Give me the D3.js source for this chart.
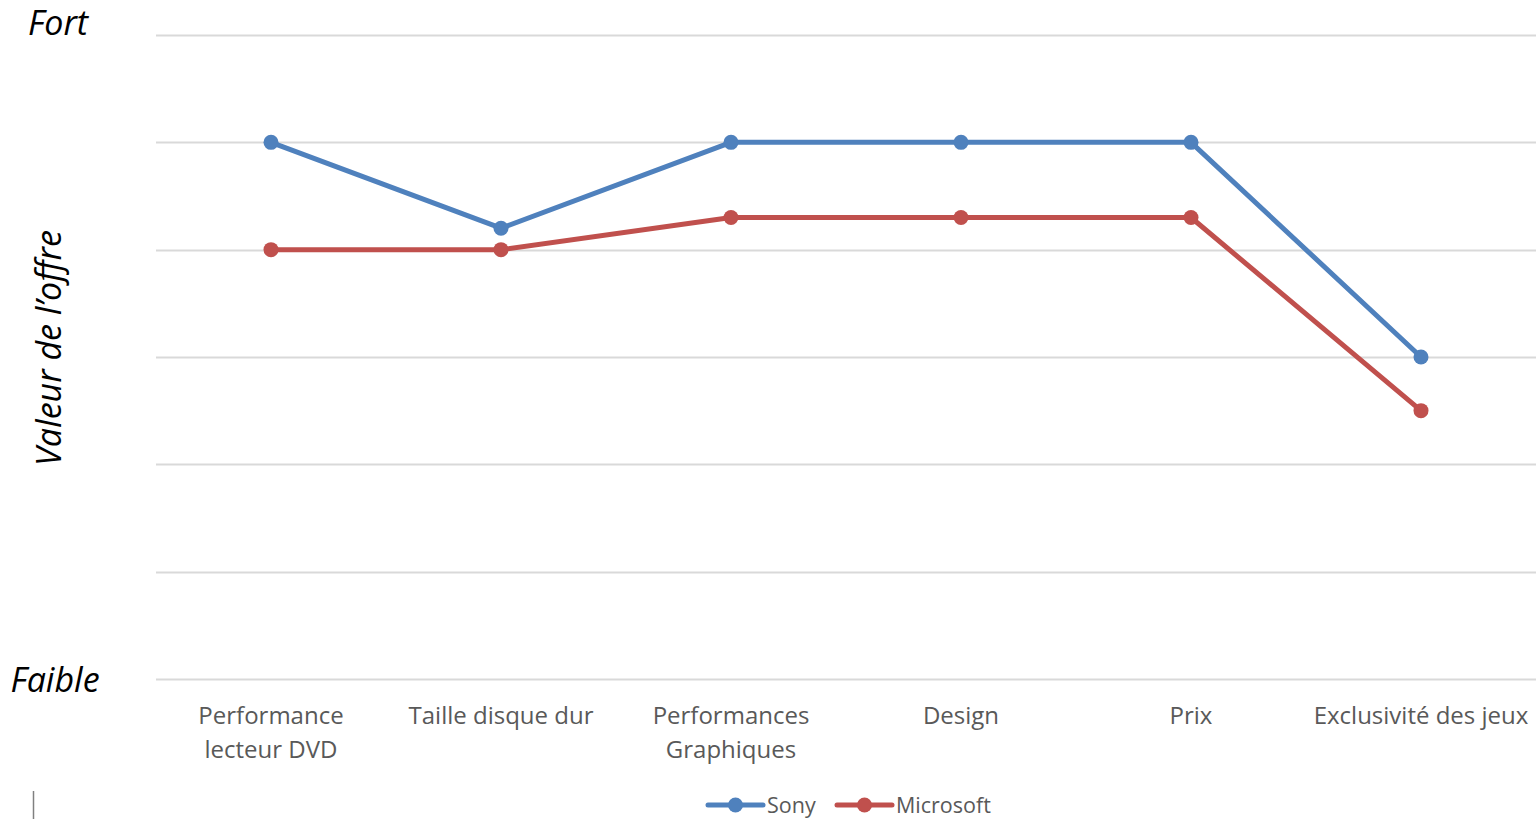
<!DOCTYPE html>
<html>
<head>
<meta charset="utf-8">
<script src="https://cdn.jsdelivr.net/npm/d3@7"></script>
<style>
  body { margin: 0; background: #fff; }
  svg { display: block; font-family: "Open Sans", "Noto Sans", sans-serif; }
</style>
</head>
<body>
<div id="chart"></div>
<script>
(function () {
    'use strict'

    var categories = ['Performance\nlecteur DVD', 'Taille disque dur', 'Performances\nGraphiques', 'Design', 'Prix', 'Exclusivité des jeux']
    var sony = [5, 4.2, 5, 5, 5, 3]
    var microsoft = [4, 4, 4.3, 4.3, 4.3, 2.5]
    var seriesNames = ['Sony', 'Microsoft']
    var colors = ['#4F81BD', '#C0504D']

    var W = 1537, H = 819
    var margin = { top: 35, right: 1, bottom: 140, left: 156 }

    var svg = d3.select('#chart').append('svg')
        .attr('width', W)
        .attr('height', H)

    var x = d3.scaleBand()
        .domain(categories)
        .range([margin.left, W - margin.right])

    var y = d3.scaleLinear()
        .domain([0, 6])
        .range([H - margin.bottom, margin.top])

    // gridlines
    svg.append('g')
        .selectAll('line')
        .data(y.ticks(6))
        .enter().append('line')
        .attr('x1', margin.left)
        .attr('x2', W - margin.right)
        .attr('y1', function (d) { return Math.round(y(d)) + 0.5 })
        .attr('y2', function (d) { return Math.round(y(d)) + 0.5 })
        .attr('stroke', '#D9D9D9')
        .attr('stroke-width', 2)

    // category labels
    var labels = svg.append('g')
        .selectAll('text')
        .data(categories)
        .enter().append('text')
        .attr('x', function (d) { return x(d) + x.bandwidth() / 2 })
        .attr('y', 724)
        .attr('text-anchor', 'middle')
        .attr('fill', '#595959')
        .style('font-size', '24px')

    labels.selectAll('tspan')
        .data(function (d) { return d.split('\n') })
        .enter().append('tspan')
        .attr('x', function () { var p = d3.select(this.parentNode).datum(); return x(p) + x.bandwidth() / 2 })
        .attr('dy', function (d, i) { return i === 0 ? 0 : 34 })
        .text(function (d) { return d })

    // lines + markers
    var line = d3.line()
        .x(function (d, i) { return x(categories[i]) + x.bandwidth() / 2 })
        .y(function (d) { return y(d) })

    ;[sony, microsoft].forEach(function (vals, s) {
        svg.append('path')
            .datum(vals)
            .attr('d', line)
            .attr('fill', 'none')
            .attr('stroke', colors[s])
            .attr('stroke-width', 5)
            .attr('stroke-linejoin', 'round')
            .attr('stroke-linecap', 'round')

        svg.append('g')
            .selectAll('circle')
            .data(vals)
            .enter().append('circle')
            .attr('cx', function (d, i) { return x(categories[i]) + x.bandwidth() / 2 })
            .attr('cy', function (d) { return y(d) })
            .attr('r', 7.5)
            .attr('fill', colors[s])
    })

    // axis titles
    svg.append('text')
        .attr('x', 58).attr('y', 35)
        .attr('text-anchor', 'middle')
        .style('font-style', 'italic').style('font-size', '34px')
        .text('Fort')

    svg.append('text')
        .attr('x', 55).attr('y', 692)
        .attr('text-anchor', 'middle')
        .style('font-style', 'italic').style('font-size', '34px')
        .text('Faible')

    svg.append('text')
        .attr('transform', 'translate(61,348) rotate(-90)')
        .attr('text-anchor', 'middle')
        .style('font-style', 'italic').style('font-size', '34px')
        .text('Valeur de l\u2019offre')

    // legend
    var legendX = [708, 837]
    var legendW = [55, 55]
    var lg = svg.append('g')
        .selectAll('g')
        .data(seriesNames)
        .enter().append('g')
        .attr('transform', function (d, i) { return 'translate(' + legendX[i] + ',805)' })

    lg.append('line')
        .attr('x1', 0).attr('x2', function (d, i) { return legendW[i] })
        .attr('stroke', function (d, i) { return colors[i] })
        .attr('stroke-width', 5)
        .attr('stroke-linecap', 'round')

    lg.append('circle')
        .attr('cx', function (d, i) { return legendW[i] / 2 })
        .attr('r', 7.5)
        .attr('fill', function (d, i) { return colors[i] })

    lg.append('text')
        .attr('x', function (d, i) { return legendW[i] + 4 })
        .attr('y', 8)
        .attr('fill', '#595959')
        .style('font-size', '21.5px')
        .text(function (d) { return d })

    // small stray mark bottom-left
    svg.append('line')
        .attr('x1', 33.5).attr('x2', 33.5)
        .attr('y1', 791).attr('y2', 819)
        .attr('stroke', '#808080')
        .attr('stroke-width', 1.5)
})()
</script>
</body>
</html>
